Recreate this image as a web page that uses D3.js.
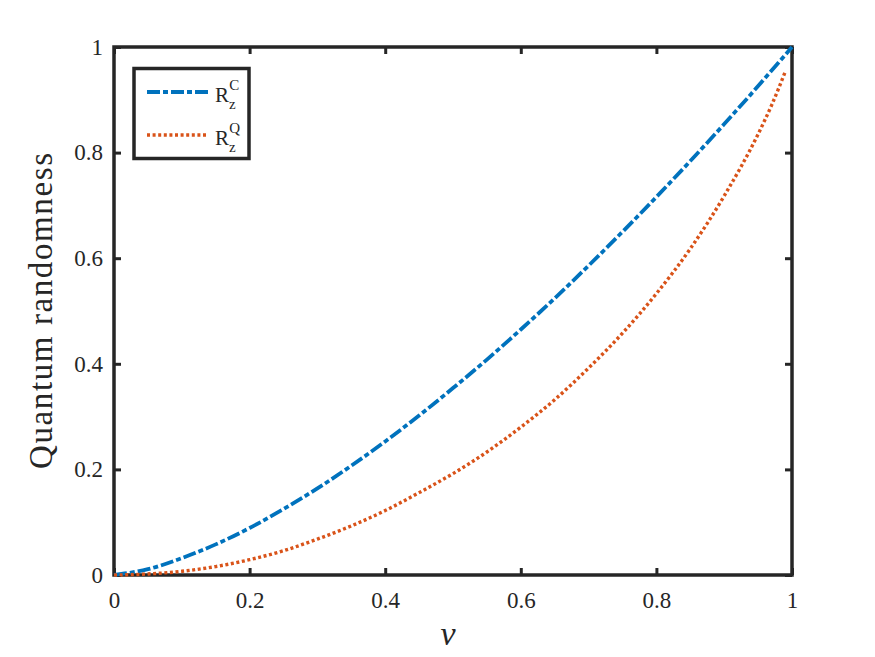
<!DOCTYPE html>
<html>
<head>
<meta charset="utf-8">
<script src="https://cdn.jsdelivr.net/npm/d3@7"></script>
<style>
  html, body { margin: 0; padding: 0; background: #ffffff; }
  svg { display: block; }
</style>
</head>
<body>
<svg id="chart" width="875" height="657"></svg>
<script>
// ---- data ----
const vClassical = [0, 0.05, 0.10, 0.15, 0.20, 0.25, 0.30, 0.35, 0.40, 0.45, 0.50, 0.55, 0.60, 0.65, 0.70, 0.75, 0.80, 0.85, 0.90, 0.95, 1.00];
const rClassical = [0, 0.011, 0.032, 0.058, 0.089, 0.125, 0.164, 0.207, 0.253, 0.302, 0.354, 0.408, 0.465, 0.524, 0.586, 0.650, 0.716, 0.784, 0.854, 0.926, 1.000];
const vQuantum = [0, 0.05, 0.10, 0.15, 0.20, 0.25, 0.30, 0.35, 0.40, 0.45, 0.50, 0.55, 0.60, 0.65, 0.70, 0.75, 0.80, 0.85, 0.90, 0.95, 0.97, 0.99];
const rQuantum = [0, 0.002, 0.007, 0.016, 0.029, 0.046, 0.068, 0.093, 0.122, 0.156, 0.192, 0.233, 0.280, 0.332, 0.392, 0.458, 0.533, 0.618, 0.718, 0.835, 0.890, 0.953];
const xTicks = [0, 0.2, 0.4, 0.6, 0.8, 1];
const yTicks = [0, 0.2, 0.4, 0.6, 0.8, 1];
const xTickLabels = ["0", "0.2", "0.4", "0.6", "0.8", "1"];
const yTickLabels = ["0", "0.2", "0.4", "0.6", "0.8", "1"];
const seriesNames = ["C", "Q"];
const seriesColors = ["#0072BD", "#D95319"];

// ---- layout ----
const pLeft = 114, pRight = 792, pTop = 47, pBottom = 575;
const axisColor = "#262626";
const FONT = "Liberation Serif";
const svg = d3.select("#chart");

const x = d3.scaleLinear().domain([0, 1]).range([pLeft, pRight]);
const y = d3.scaleLinear().domain([0, 1]).range([pBottom, pTop]);

function styleAxis(g) {
  g.attr("font-family", FONT).attr("font-size", 23);
  g.select(".domain").remove();
  g.selectAll(".tick line").attr("stroke", axisColor).attr("stroke-width", 3);
  g.selectAll(".tick text").attr("fill", axisColor).attr("font-family", FONT).attr("font-size", 23);
}
svg.append("g").attr("transform", `translate(0,${pBottom})`)
  .call(d3.axisBottom(x).tickValues(xTicks).tickFormat((d, i) => xTickLabels[i]).tickSize(-7).tickPadding(17))
  .call(styleAxis);
svg.append("g").attr("transform", `translate(0,${pTop})`)
  .call(d3.axisTop(x).tickValues(xTicks).tickFormat("").tickSize(-7))
  .call(styleAxis);
svg.append("g").attr("transform", `translate(${pLeft},0)`)
  .call(d3.axisLeft(y).tickValues(yTicks).tickFormat((d, i) => yTickLabels[i]).tickSize(-7).tickPadding(11))
  .call(styleAxis);
svg.append("g").attr("transform", `translate(${pRight},0)`)
  .call(d3.axisRight(y).tickValues(yTicks).tickFormat("").tickSize(-7))
  .call(styleAxis);

// frame
svg.append("rect")
  .attr("x", pLeft).attr("y", pTop)
  .attr("width", pRight - pLeft).attr("height", pBottom - pTop)
  .attr("fill", "none").attr("stroke", axisColor).attr("stroke-width", 3.5);

// curves
const line = d3.line().x(d => x(d[0])).y(d => y(d[1])).curve(d3.curveMonotoneX);
const dataC = vClassical.map((v, i) => [v, rClassical[i]]);
const dataQ = vQuantum.map((v, i) => [v, rQuantum[i]]);

svg.append("path").datum(dataC)
  .attr("d", line).attr("fill", "none")
  .attr("stroke", seriesColors[0]).attr("stroke-width", 3.8)
  .attr("stroke-dasharray", "13,3,5,3");
svg.append("path").datum(dataQ)
  .attr("d", line).attr("fill", "none")
  .attr("stroke", seriesColors[1]).attr("stroke-width", 3.4)
  .attr("stroke-dasharray", "3,2.6");

// axis labels
svg.append("text")
  .attr("x", 448).attr("y", 645)
  .attr("text-anchor", "middle")
  .attr("font-family", FONT).attr("font-size", 34).attr("font-style", "italic")
  .attr("fill", axisColor)
  .text("v");
svg.append("text")
  .attr("transform", `translate(52,${(pTop + pBottom) / 2}) rotate(-90)`)
  .attr("text-anchor", "middle")
  .attr("textLength", 316).attr("lengthAdjust", "spacing")
  .attr("font-family", FONT).attr("font-size", 33)
  .attr("fill", axisColor)
  .text("Quantum randomness");

// legend
const lg = svg.append("g");
lg.append("rect")
  .attr("x", 134).attr("y", 68.5).attr("width", 115).attr("height", 90)
  .attr("fill", "#ffffff").attr("stroke", axisColor).attr("stroke-width", 3.5);
const legendRows = [92, 135];
const dashes = ["13,3,5,3", "3,2.6"];
const widths = [3.8, 3.4];
seriesNames.forEach((name, i) => {
  const ly = legendRows[i];
  lg.append("line")
    .attr("x1", 147).attr("x2", 208).attr("y1", ly).attr("y2", ly)
    .attr("stroke", seriesColors[i]).attr("stroke-width", widths[i])
    .attr("stroke-dasharray", dashes[i]);
  const t = lg.append("text").attr("x", 215).attr("y", ly + 9.5)
    .attr("font-family", FONT).attr("font-size", 21).attr("fill", axisColor);
  t.append("tspan").text("R");
  t.append("tspan").attr("dy", 7).attr("font-size", 15).text("z");
  t.append("tspan").attr("dx", -6.5).attr("dy", -19).attr("font-size", 15).text(name);
});
</script>
</body>
</html>
